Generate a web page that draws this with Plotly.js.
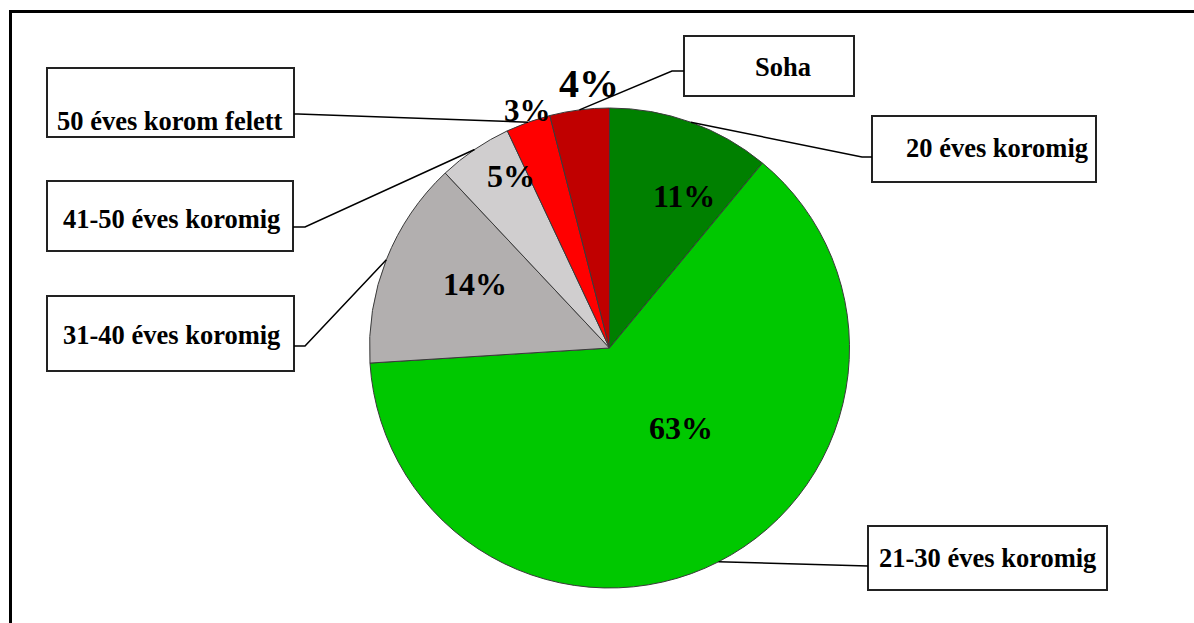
<!DOCTYPE html>
<html>
<head>
<meta charset="utf-8">
<script src="https://cdn.plot.ly/plotly-3.0.1.min.js"></script>
<style>html,body{margin:0;padding:0;background:#fff;}#chart{width:1194px;height:623px;}</style>
</head>
<body>
<div id="chart"></div>
<script>
// ---- data ----
const categories = ["20 éves koromig", "21-30 éves koromig", "31-40 éves koromig", "41-50 éves koromig", "50 éves korom felett", "Soha"];
const values = [11, 63, 14, 5, 3, 4];
const colors = ["#008000", "#00C800", "#B2AFAF", "#D0CECF", "#FF0000", "#C00000"];

// ---- layout helpers (pixel -> paper) ----
const W = 1194, H = 623;
const px = x => x / W;
const py = y => 1 - y / H;
const cx = 609.5, cy = 348, R = 240;

const total = values.reduce((a, b) => a + b, 0);
const mids = [];
let cum = 0;
values.forEach(v => { mids.push((cum + v / 2) / total * 2 * Math.PI); cum += v; });
const edgePt = i => [cx + R * Math.sin(mids[i]), cy - R * Math.cos(mids[i])];

// label boxes [x0,y0,x1,y1], text centre [x,y], leader route
const boxes = [
  {b: [872, 116, 1096, 182], t: [997, 148], route: [[862, 157], [872, 157]]},
  {b: [868, 526, 1107, 590], t: [987, 558], route: [[868, 566]]},
  {b: [47, 296, 294, 371], t: [171, 335], route: [[305, 346], [294, 346]]},
  {b: [47, 181, 293, 251], t: [171, 219], route: [[305, 227], [293, 227]]},
  {b: [47, 68, 294, 137], t: [170, 121], route: [[298, 114], [294, 114]]},
  {b: [684, 36, 854, 96], t: [783, 67], route: [[672, 71], [684, 71]]}
];
const pctPos = [[684, 196], [681, 428], [475, 284], [511, 176], [527, 110], [589, 83]];
const pctSize = [32, 32, 32, 32, 31, 40];

const shapes = [];
const annotations = [];
// frame
shapes.push({type: 'line', xref: 'paper', yref: 'paper', x0: px(9), x1: px(1194), y0: py(11.5), y1: py(11.5), line: {color: '#000', width: 3}});
shapes.push({type: 'line', xref: 'paper', yref: 'paper', x0: px(10.5), x1: px(10.5), y0: py(10), y1: py(623), line: {color: '#000', width: 3}});

boxes.forEach((bx, i) => {
  shapes.push({type: 'rect', xref: 'paper', yref: 'paper', x0: px(bx.b[0]), x1: px(bx.b[2]), y0: py(bx.b[1]), y1: py(bx.b[3]), line: {color: '#222', width: 2}, fillcolor: 'rgba(0,0,0,0)'});
  const p0 = edgePt(i);
  let path = 'M ' + px(p0[0]) + ' ' + py(p0[1]);
  bx.route.forEach(pt => { path += ' L ' + px(pt[0]) + ' ' + py(pt[1]); });
  shapes.push({type: 'path', xref: 'paper', yref: 'paper', path: path, line: {color: '#000', width: 1.5}});
  annotations.push({xref: 'paper', yref: 'paper', x: px(bx.t[0]), y: py(bx.t[1]), xanchor: 'center', yanchor: 'middle', showarrow: false,
    text: '<b>' + categories[i] + '</b>', font: {family: 'Liberation Serif, Times New Roman, serif', size: 26.5, color: '#000'}});
  annotations.push({xref: 'paper', yref: 'paper', x: px(pctPos[i][0]), y: py(pctPos[i][1]), xanchor: 'center', yanchor: 'middle', showarrow: false,
    text: '<b>' + Math.round(values[i] / total * 100) + '%</b>', font: {family: 'Liberation Serif, Times New Roman, serif', size: pctSize[i], color: '#000'}});
});

const trace = {
  type: 'pie',
  labels: categories,
  values: values,
  sort: false,
  direction: 'clockwise',
  rotation: 0,
  marker: {colors: colors, line: {color: '#3a3a3a', width: 1}},
  textinfo: 'none',
  hoverinfo: 'skip',
  showlegend: false,
  domain: {x: [px(cx - R), px(cx + R)], y: [py(cy + R), py(cy - R)]}
};

Plotly.newPlot('chart', [trace], {
  width: W, height: H,
  margin: {l: 0, r: 0, t: 0, b: 0},
  paper_bgcolor: '#fff',
  showlegend: false,
  shapes: shapes,
  annotations: annotations
}, {staticPlot: true});
</script>
</body>
</html>
